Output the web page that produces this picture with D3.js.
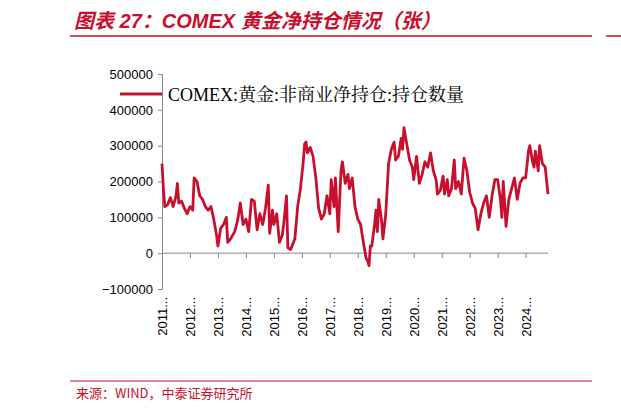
<!DOCTYPE html><html><head><meta charset="utf-8"><script src="https://cdn.jsdelivr.net/npm/d3@7"></script>
<style>body{margin:0;background:#fff}</style></head><body><svg id="c" width="621" height="413"></svg>
<script>
const years=[2011.0,2011.05,2011.1,2011.2,2011.3,2011.4,2011.5,2011.55,2011.6,2011.7,2011.8,2011.9,2012.0,2012.1,2012.15,2012.25,2012.35,2012.45,2012.55,2012.65,2012.75,2012.85,2012.95,2013.0,2013.1,2013.2,2013.3,2013.35,2013.45,2013.6,2013.7,2013.8,2013.9,2014.0,2014.1,2014.2,2014.3,2014.4,2014.5,2014.6,2014.7,2014.8,2014.85,2014.95,2015.0,2015.1,2015.2,2015.3,2015.35,2015.45,2015.5,2015.6,2015.75,2015.85,2015.95,2016.05,2016.1,2016.15,2016.2,2016.3,2016.4,2016.5,2016.6,2016.7,2016.8,2016.9,2017.0,2017.05,2017.15,2017.2,2017.3,2017.4,2017.45,2017.55,2017.65,2017.7,2017.8,2017.9,2018.0,2018.1,2018.2,2018.3,2018.35,2018.4,2018.45,2018.5,2018.6,2018.65,2018.7,2018.75,2018.85,2018.9,2019.0,2019.1,2019.2,2019.3,2019.35,2019.45,2019.55,2019.6,2019.65,2019.75,2019.85,2019.95,2020.0,2020.1,2020.2,2020.3,2020.4,2020.5,2020.6,2020.7,2020.8,2020.85,2020.95,2021.05,2021.1,2021.2,2021.25,2021.35,2021.45,2021.5,2021.6,2021.7,2021.8,2021.9,2022.0,2022.1,2022.2,2022.3,2022.4,2022.5,2022.6,2022.7,2022.8,2022.9,2023.0,2023.1,2023.15,2023.2,2023.3,2023.4,2023.5,2023.6,2023.7,2023.8,2023.9,2024.0,2024.05,2024.1,2024.15,2024.25,2024.3,2024.35,2024.45,2024.5,2024.6,2024.7,2024.8];
const values=[250,180,130,135,155,130,160,195,140,145,125,110,130,120,210,200,160,150,130,120,130,95,50,20,70,80,100,30,40,60,90,140,80,95,60,150,145,65,110,80,125,190,55,120,80,110,30,50,80,160,15,10,40,130,180,255,305,310,280,295,270,210,125,95,110,160,110,205,130,210,60,230,255,195,220,180,210,130,95,80,30,-15,-20,-35,20,20,80,120,60,150,90,40,110,250,290,310,260,270,320,290,350,305,260,240,205,270,195,220,255,240,280,230,205,165,175,215,165,205,160,180,260,180,200,165,265,230,170,140,125,65,110,140,160,100,160,205,205,150,100,200,75,150,180,210,150,195,210,210,245,285,300,255,240,285,230,300,250,240,165];
const yTicks=[-100000,0,100000,200000,300000,400000,500000];
const xTicks=[2011,2012,2013,2014,2015,2016,2017,2018,2019,2020,2021,2022,2023,2024];
const red="#c8102e";
const svg=d3.select("#c");
const x=d3.scaleLinear().domain([2011,2024.8]).range([162,548]);
const y=d3.scaleLinear().domain([-100000,500000]).range([289,74]);
svg.append("text").attr("x",74).attr("y",28).attr("fill",red).attr("font-size",20).attr("font-weight","bold").attr("font-style","italic")
 .attr("font-family","Liberation Sans, Noto Sans CJK SC, sans-serif").text("图表 27：COMEX 黄金净持仓情况（张）");
svg.append("line").attr("x1",70).attr("x2",592).attr("y1",36).attr("y2",36).attr("stroke",red).attr("stroke-width",1.5);
svg.append("line").attr("x1",606).attr("x2",621).attr("y1",36).attr("y2",36).attr("stroke",red).attr("stroke-width",1.5);
svg.append("line").attr("x1",70).attr("x2",592).attr("y1",381).attr("y2",381).attr("stroke",red).attr("stroke-width",1);
svg.append("text").attr("x",76).attr("y",398).attr("fill",red).attr("font-size",13).attr("font-family","Noto Sans CJK SC, sans-serif").text("来源：WIND，中泰证券研究所");
const ya=svg.append("g").attr("transform","translate(162,0)").call(d3.axisLeft(y).tickValues(yTicks).tickSize(4).tickFormat(d3.format("d")));
ya.select(".domain").attr("stroke","#888");
ya.selectAll("line").attr("stroke","#888");
ya.selectAll("text").attr("font-size",13).attr("font-family","Liberation Sans, Arial, sans-serif").attr("fill","#000").attr("x",-9);
const xa=svg.append("g").attr("transform",`translate(0,${y(0)})`).call(d3.axisBottom(x).tickValues(xTicks).tickSize(5).tickFormat(""));
xa.select(".domain").attr("stroke","#888").attr("d","M162,0H548");
xa.selectAll("line").attr("stroke","#888");
svg.append("g").selectAll("text").data(xTicks).join("text")
 .attr("transform",d=>`translate(${x(d)+5},297) rotate(-90)`).attr("text-anchor","end")
 .attr("font-size",13).attr("font-family","Liberation Sans, Arial, sans-serif").text(d=>d+"...");
const line=d3.line().x((d,i)=>x(years[i])).y(d=>y(d*1000)).curve(d3.curveLinear);
svg.append("path").attr("d",line(values)).attr("fill","none").attr("stroke",red).attr("stroke-width",2.8).attr("stroke-linejoin","round");
svg.append("line").attr("x1",120).attr("x2",162).attr("y1",94).attr("y2",94).attr("stroke",red).attr("stroke-width",2.8);
svg.append("text").attr("x",168).attr("y",101).attr("font-size",18).attr("font-family","Liberation Serif, Noto Serif CJK SC, serif").text("COMEX:黄金:非商业净持仓:持仓数量");
</script></body></html>
